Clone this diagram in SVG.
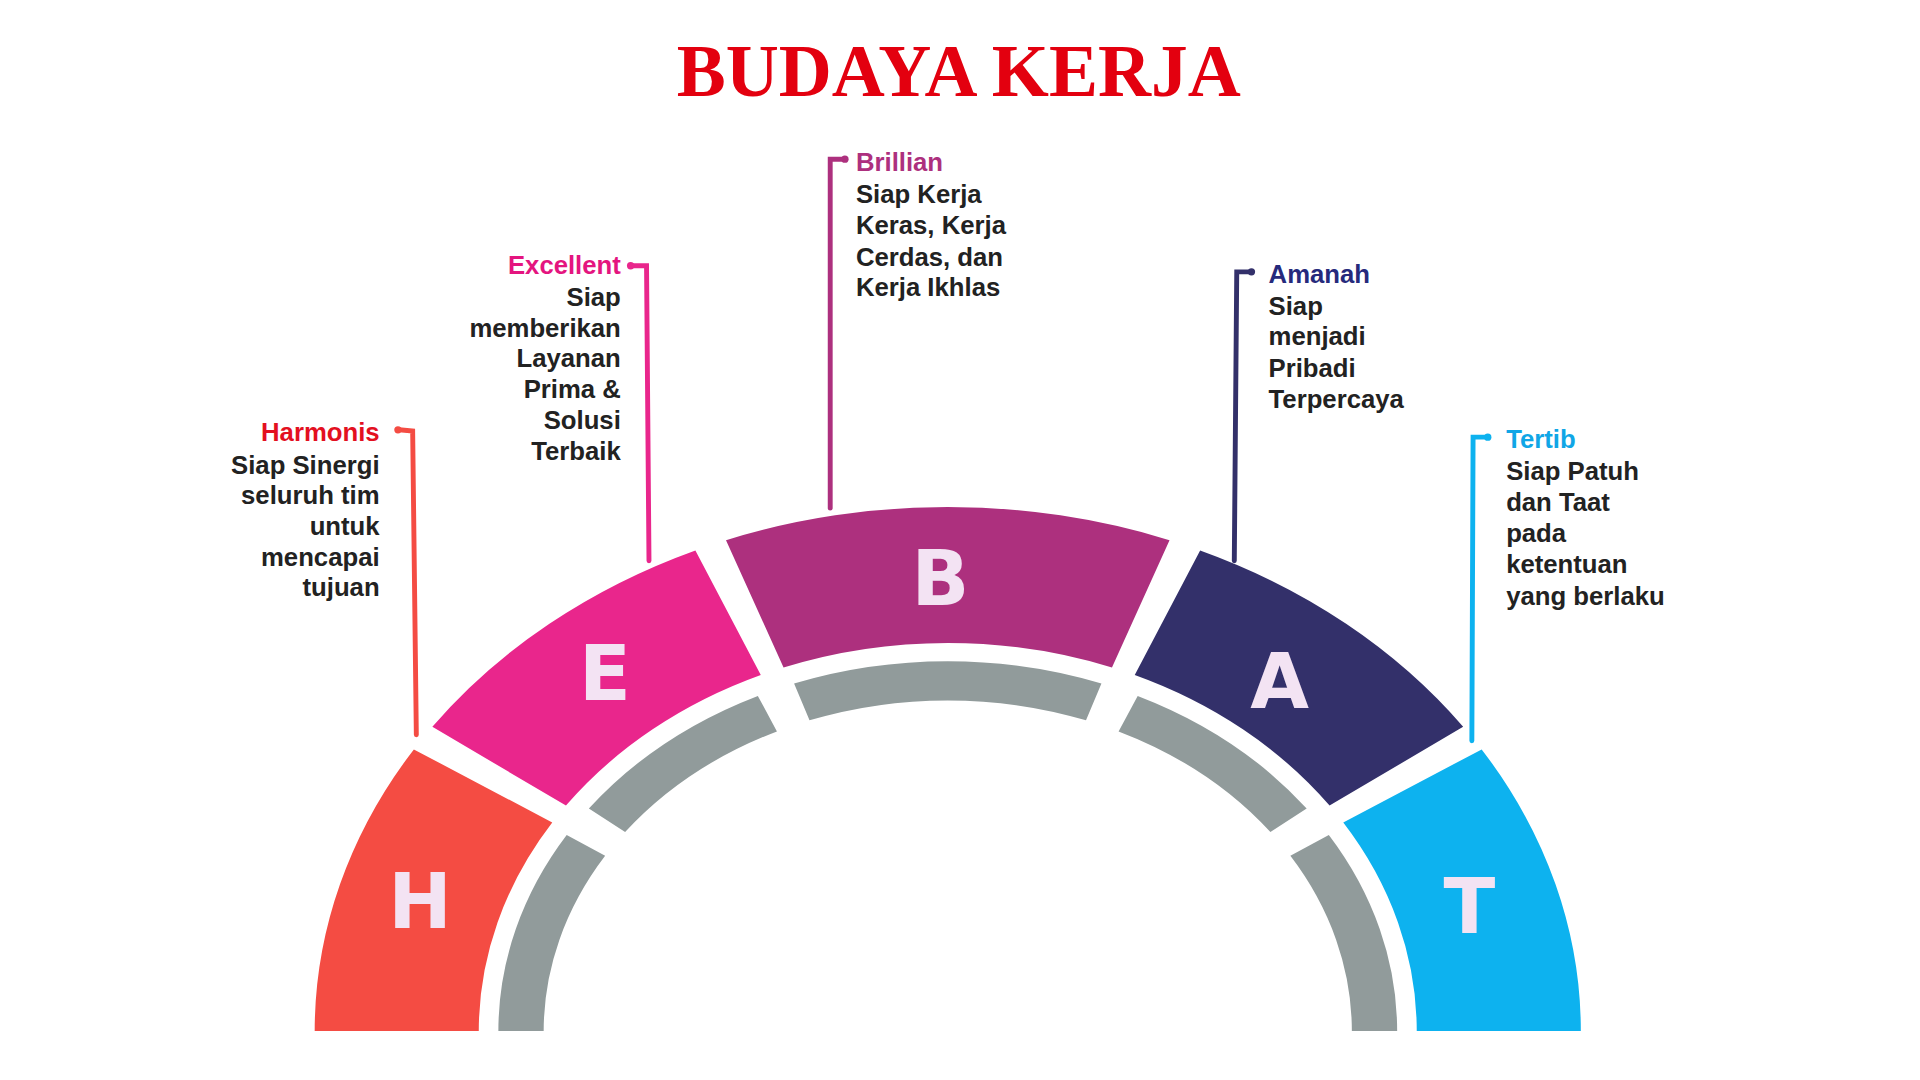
<svg xmlns="http://www.w3.org/2000/svg" width="1920" height="1080" viewBox="0 0 1920 1080">
<style>
.lt{font-family:"DejaVu Sans",sans-serif;font-weight:bold;font-size:62px;fill:#f3e3f3;text-anchor:middle}
.hd{font-family:"Liberation Sans",Arial,sans-serif;font-weight:bold;font-size:21px}
.bd{font-family:"Liberation Sans",Arial,sans-serif;font-weight:bold;font-size:21px;fill:#222}
.r{text-anchor:end}
.ln{fill:none;stroke-width:4;stroke-linecap:round}
.gr{fill:#919b9b}
</style>
<rect width="1920" height="1080" fill="#fff"/>
<g transform="scale(1.2245)">
<text x="783" y="78" text-anchor="middle" font-family="Liberation Serif,serif" font-weight="bold" font-size="60" fill="#e3000f">BUDAYA KERJA</text>
<g id="connectors">
<path class="ln" stroke="#f44c43" d="M340 600 L337 352 L326 351"/><circle cx="325" cy="351" r="3" fill="#f44c43"/>
<path class="ln" stroke="#e9268c" d="M530 458 L528 217 L516 217"/><circle cx="515" cy="217" r="3" fill="#e9268c"/>
<path class="ln" stroke="#ad307e" d="M678 415 L678 130 L689 130"/><circle cx="690" cy="130" r="3" fill="#ad307e"/>
<path class="ln" stroke="#33306a" d="M1008 458 L1010 222 L1021 222"/><circle cx="1022" cy="222" r="3" fill="#33306a"/>
<path class="ln" stroke="#0db2ef" d="M1202 605 L1203 357 L1214 357"/><circle cx="1215" cy="357" r="3" fill="#0db2ef"/>
</g>
<g id="ring">
<path class="gr" d="M407 842 A367 302 0 0 1 462.8 682 L494.2 698.9 A330 270 0 0 0 444 842 Z"/>
<path class="gr" d="M480.9 660.3 A367 302 0 0 1 618.9 568.3 L634.5 597.3 A330 270 0 0 0 510.5 679.5 Z"/>
<path class="gr" d="M648.5 558.2 A367 302 0 0 1 899.5 558.2 L886.9 588.3 A330 270 0 0 0 661.1 588.3 Z"/>
<path class="gr" d="M929.1 568.3 A367 302 0 0 1 1067.1 660.3 L1037.5 679.5 A330 270 0 0 0 913.5 597.3 Z"/>
<path class="gr" d="M1085.2 682 A367 302 0 0 1 1141 842 L1104 842 A330 270 0 0 0 1053.8 698.9 Z"/>
</g>
<g id="node-H">
<path fill="#f44c43" d="M257 842 A517 428 0 0 1 338 612 L451 671.7 A383 317 0 0 0 391 842 Z"/>
<text class="lt" x="343" y="758">H</text>
<text class="hd r" x="310" y="360" fill="#e3101f">Harmonis</text>
<text class="bd r" x="310" y="387">Siap Sinergi</text><text class="bd r" x="310" y="412">seluruh tim</text><text class="bd r" x="310" y="437">untuk</text><text class="bd r" x="310" y="462">mencapai</text><text class="bd r" x="310" y="487">tujuan</text>
</g>
<g id="node-E">
<path fill="#e9268c" d="M353.1 593.5 A517 428 0 0 1 567.9 449.5 L621.3 551.3 A383 317 0 0 0 462.2 657.9 Z"/>
<text class="lt" x="494" y="572">E</text>
<text class="hd r" x="507" y="224" fill="#e4157f">Excellent</text>
<text class="bd r" x="507" y="250">Siap</text><text class="bd r" x="507" y="275">memberikan</text><text class="bd r" x="507" y="300">Layanan</text><text class="bd r" x="507" y="325">Prima &amp;</text><text class="bd r" x="507" y="350">Solusi</text><text class="bd r" x="507" y="376">Terbaik</text>
</g>
<g id="node-B">
<path fill="#ad307e" d="M592.9 441.1 A517 428 0 0 1 955.1 441.1 L908.1 545.1 A383 317 0 0 0 639.9 545.1 Z"/>
<text class="lt" x="768" y="494">B</text>
<text class="hd" x="699" y="140" fill="#ad307e">Brillian</text>
<text class="bd" x="699" y="166">Siap Kerja</text><text class="bd" x="699" y="191">Keras, Kerja</text><text class="bd" x="699" y="217">Cerdas, dan</text><text class="bd" x="699" y="242">Kerja Ikhlas</text>
</g>
<g id="node-A">
<path fill="#33306a" d="M980.1 449.5 A517 428 0 0 1 1194.9 593.5 L1085.8 657.9 A383 317 0 0 0 926.7 551.3 Z"/>
<text class="lt" x="1045" y="578">A</text>
<text class="hd" x="1036" y="231" fill="#262a7c">Amanah</text>
<text class="bd" x="1036" y="257">Siap</text><text class="bd" x="1036" y="282">menjadi</text><text class="bd" x="1036" y="308">Pribadi</text><text class="bd" x="1036" y="333">Terpercaya</text>
</g>
<g id="node-T">
<path fill="#0db2ef" d="M1210 612 A517 428 0 0 1 1291 842 L1157 842 A383 317 0 0 0 1097 671.7 Z"/>
<text class="lt" x="1200" y="762">T</text>
<text class="hd" x="1230" y="366" fill="#10a6e6">Tertib</text>
<text class="bd" x="1230" y="392">Siap Patuh</text><text class="bd" x="1230" y="417">dan Taat</text><text class="bd" x="1230" y="443">pada</text><text class="bd" x="1230" y="468">ketentuan</text><text class="bd" x="1230" y="494">yang berlaku</text>
</g>
</g>
</svg>
